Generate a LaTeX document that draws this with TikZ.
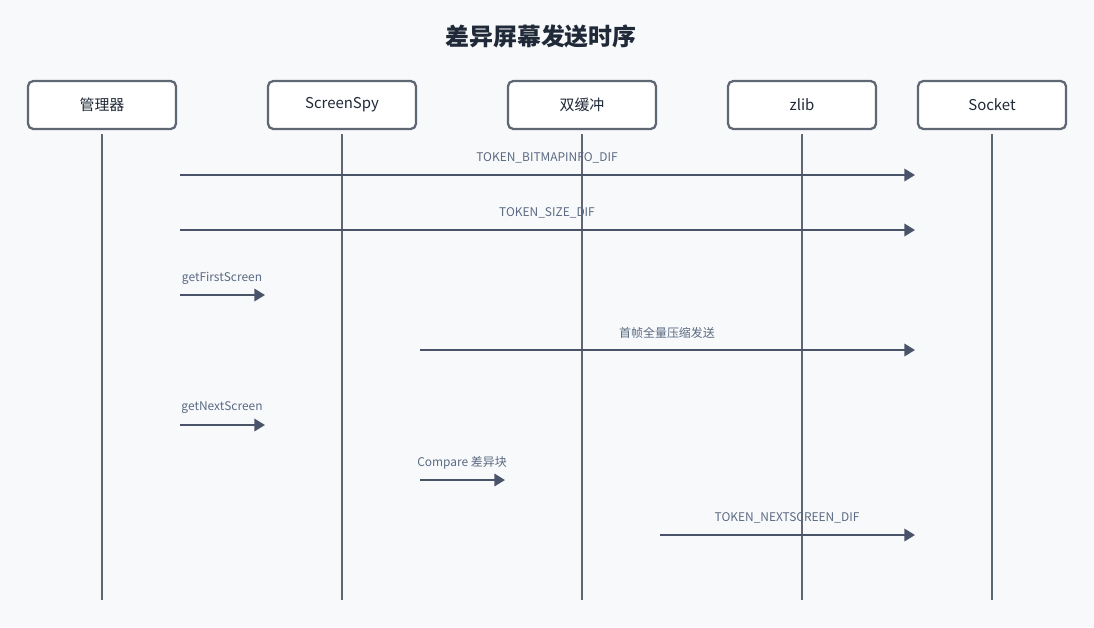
\documentclass[tikz,border=0pt]{standalone}
\usepackage{fontspec}
\setmainfont{Noto Sans CJK SC}
\usetikzlibrary{positioning}
\usetikzlibrary{arrows.meta}
\definecolor{bgc}{HTML}{F8F9FB}
\definecolor{boxc}{HTML}{5F6775}
\definecolor{linec}{HTML}{4A5468}
\definecolor{labc}{HTML}{5A6A82}
\definecolor{titc}{HTML}{1F2937}
\begin{document}
\begin{tikzpicture}[x=0.02cm,y=-0.02cm,
  actor/.style={draw=boxc, line width=1.3pt, fill=white, rounded corners=3pt, minimum width=2.96cm, minimum height=0.96cm, font=\fontsize{8.5}{10}\selectfont, text=titc},
  life/.style={draw=boxc, line width=1.2pt},
  msg/.style={draw=linec, line width=1.2pt, -{Triangle[length=6pt,width=7pt]}},
  lab/.style={font=\fontsize{6.8}{8}\selectfont, text=labc}]

\fill[bgc] (0,0) rectangle (1094,627);
\node[font=\fontsize{13.6}{16}\selectfont\bfseries, text=titc] (title) at (541,36) {差异屏幕发送时序};

% participants
\node[actor] (mgr) at (102,105) {管理器};
\node[actor] (spy) at (342,105) {ScreenSpy};
\node[actor] (buf) at (582,105) {双缓冲};
\node[actor] (zlib) at (802,105) {zlib};
\node[actor] (sock) at (992,105) {Socket};

\foreach \n/\x in {mgr/102, spy/342, buf/582, zlib/802, sock/992}{
  \coordinate (\n top) at (\x,134);
  \coordinate (\n bot) at (\x,600);
  \draw[life] (\n top) -- (\n bot);
}

% messages
\coordinate (a1) at (180,175); \coordinate (b1) at (915,175);
\draw[msg] (a1) -- (b1);
\node[lab] (l1) at (547,158) {TOKEN\_BITMAPINFO\_DIF};

\coordinate (a2) at (180,230); \coordinate (b2) at (915,230);
\draw[msg] (a2) -- (b2);
\node[lab] (l2) at (547,213) {TOKEN\_SIZE\_DIF};

\coordinate (a3) at (180,295); \coordinate (b3) at (265,295);
\draw[msg] (a3) -- (b3);
\node[lab] (l3) at (222,278) {getFirstScreen};

\coordinate (a4) at (420,350); \coordinate (b4) at (915,350);
\draw[msg] (a4) -- (b4);
\node[lab] (l4) at (667,333) {首帧全量压缩发送};

\coordinate (a5) at (180,425); \coordinate (b5) at (265,425);
\draw[msg] (a5) -- (b5);
\node[lab] (l5) at (222,408) {getNextScreen};

\coordinate (a6) at (420,480); \coordinate (b6) at (505,480);
\draw[msg] (a6) -- (b6);
\node[lab] (l6) at (462,463) {Compare 差异块};

\coordinate (a7) at (660,535); \coordinate (b7) at (915,535);
\draw[msg] (a7) -- (b7);
\node[lab] (l7) at (787,518) {TOKEN\_NEXTSCREEN\_DIF};
\end{tikzpicture}
\end{document}
